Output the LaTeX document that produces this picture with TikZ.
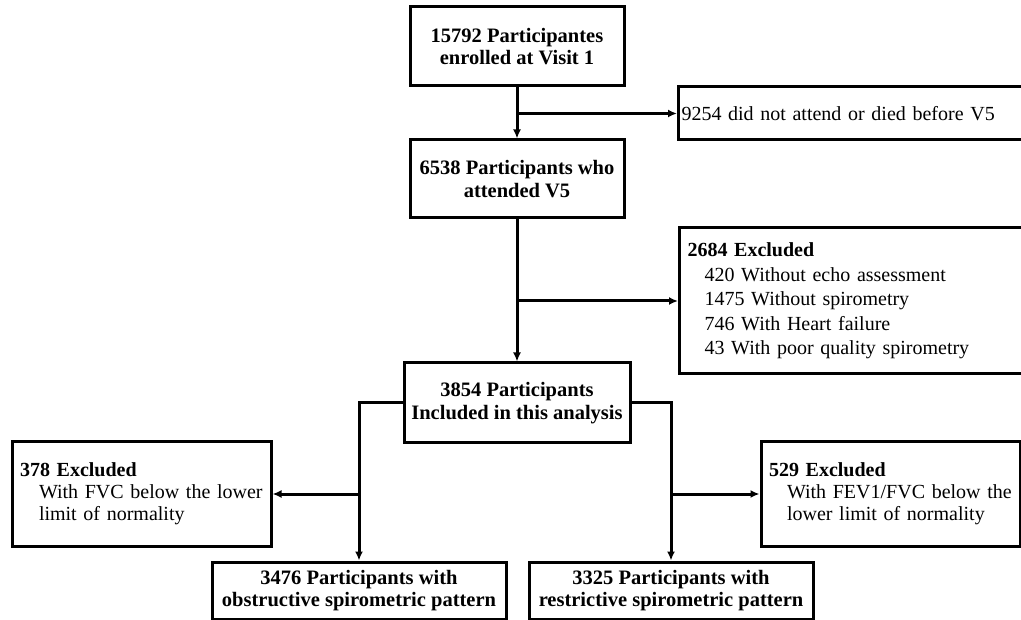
\documentclass[tikz,border=0pt]{standalone}
\usepackage{fontspec}
\setmainfont{Liberation Serif}
\usetikzlibrary{arrows.meta}

\begin{document}
\begin{tikzpicture}[x=1pt, y=-1pt, font=\fontsize{20}{22}\selectfont,
    box/.style = {draw, rectangle, line width=3pt, inner sep=0pt},
    head/.style = {box, align=center, font=\fontsize{20.5}{22.5}\selectfont\bfseries},
    side/.style = {box, align=left, inner xsep=8pt},
    arr/.style = {line width=3pt, -{Latex[length=9pt,width=8pt]}}]
      \useasboundingbox (0,0) rectangle (1021,620);
      \clip (0,0) rectangle (1021,620);

      \node [head, minimum width=214, minimum height=79] (enrolled) at (517, 46.5)
        {15792 Participantes\\enrolled at Visit 1};
      \node [head, minimum width=214, minimum height=78] (attended) at (517, 179)
        {6538 Participants who\\attended V5};
      \node [head, minimum width=226, minimum height=80] (included) at (517, 403)
        {3854 Participants\\Included in this analysis};
      \node [head, minimum width=294, minimum height=57] (obstructive) at (359, 590.5)
        {3476 Participants with\\obstructive spirometric pattern};
      \node [head, minimum width=284, minimum height=57] (restrictive) at (671, 590.5)
        {3325 Participants with\\restrictive spirometric pattern};

      \node [side, anchor=west, inner xsep=3pt, text width=354, minimum height=53] (dropped) at (677, 113.5)
        {9254 did not attend or died before V5};
      \node [side, anchor=west, text width=350, minimum height=146, font=\fontsize{20}{24.5}\selectfont] (excluded) at (678, 301)
        {\textbf{2684 Excluded}\\
         \hspace*{17pt}420 Without echo assessment\\
         \hspace*{17pt}1475 Without spirometry\\
         \hspace*{17pt}746 With Heart failure\\
         \hspace*{17pt}43 With poor quality spirometry};
      \node [side, text width=243, minimum height=104] (fvc) at (141.5, 494)
        {\textbf{378 Excluded}\\
         \hspace*{19pt}With FVC below the lower\\
         \hspace*{19pt}limit of normality};
      \node [side, text width=243, minimum height=104] (fev) at (890.5, 494)
        {\textbf{529 Excluded}\\
         \hspace*{18pt}With FEV1/FVC below the\\
         \hspace*{18pt}lower limit of normality};

      \draw [arr] (enrolled.south) -- (attended.north);
      \draw [arr] (enrolled.south |- dropped.west) -- (dropped.west);
      \draw [arr] (attended.south) -- (included.north);
      \draw [arr] (attended.south |- excluded.west) -- (excluded.west);

      \foreach \s/\n/\x in {west/obstructive/fvc, east/restrictive/fev}
               {
                 \draw [arr] (included.\s) -| (\n.north);
                 \draw [arr] (\n.north |- \x) -- (\x);
               }
\end{tikzpicture}
\end{document}
